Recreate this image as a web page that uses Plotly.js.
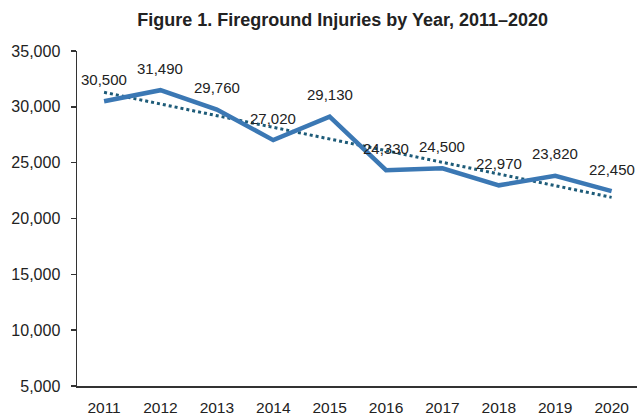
<!DOCTYPE html>
<html>
<head>
<meta charset="utf-8">
<script src="https://cdn.plot.ly/plotly-3.0.1.min.js"></script>
<style>html,body{margin:0;padding:0;background:#fff;}#chart{width:637px;height:418px;}</style>
</head>
<body>
<div id="chart"></div>
<script>
const years = [2011, 2012, 2013, 2014, 2015, 2016, 2017, 2018, 2019, 2020];
const injuries = [30500, 31490, 29760, 27020, 29130, 24330, 24500, 22970, 23820, 22450];
const labels = ["30,500", "31,490", "29,760", "27,020", "29,130", "24,330", "24,500", "22,970", "23,820", "22,450"];
const yTicks = [5000, 10000, 15000, 20000, 25000, 30000, 35000];
const yTickText = ["5,000", "10,000", "15,000", "20,000", "25,000", "30,000", "35,000"];

// linear (least squares) trendline of the data, as drawn by the original chart
const n = years.length;
const mx = years.reduce((a, b) => a + b, 0) / n;
const my = injuries.reduce((a, b) => a + b, 0) / n;
let sxy = 0, sxx = 0;
for (let i = 0; i < n; i++) { sxy += (years[i] - mx) * (injuries[i] - my); sxx += (years[i] - mx) ** 2; }
const slope = sxy / sxx;
const trendX = [years[0], years[n - 1]];
const trendY = trendX.map(x => my + slope * (x - mx));

const fontFam = 'Arial, "Liberation Sans", sans-serif';

const traces = [
  {x: trendX, y: trendY, mode: 'lines', line: {color: '#1d5b78', width: 3, dash: 'dot'}, hoverinfo: 'skip'},
  {x: years, y: injuries, mode: 'lines', line: {color: '#3b78b4', width: 4.5}}
];

const annotations = years.map((yr, i) => ({
  x: yr, y: injuries[i], text: labels[i], showarrow: false,
  xanchor: 'center', yanchor: 'middle', yshift: 22,
  font: {family: fontFam, size: 15, color: '#222'}
}));

const layout = {
  width: 637, height: 418,
  margin: {l: 77, r: 0, t: 51, b: 32},
  paper_bgcolor: '#fff', plot_bgcolor: '#fff',
  showlegend: false,
  title: {text: '<b>Figure 1. Fireground Injuries by Year, 2011–2020</b>', x: 0.538, xanchor: 'center', y: 0.952, yanchor: 'middle',
    font: {family: fontFam, size: 18, color: '#222'}},
  xaxis: {range: [2010.52, 2020.45], tickvals: years, ticktext: years.map(String), showgrid: false, zeroline: false,
    showline: true, linecolor: '#333', linewidth: 1.5, ticks: '', ticklabelstandoff: 7,
    tickfont: {family: fontFam, size: 15.5, color: '#222'}},
  yaxis: {range: [5000, 35000], tickvals: yTicks, ticktext: yTickText, showgrid: false, zeroline: false,
    showline: true, linecolor: '#333', linewidth: 1.5, ticks: 'outside', ticklen: 5, tickwidth: 1.5, tickcolor: '#333',
    ticklabelstandoff: 7,
    tickfont: {family: fontFam, size: 16, color: '#222'}},
  annotations: annotations
};

Plotly.newPlot('chart', traces, layout, {staticPlot: true, displayModeBar: false});
</script>
</body>
</html>
